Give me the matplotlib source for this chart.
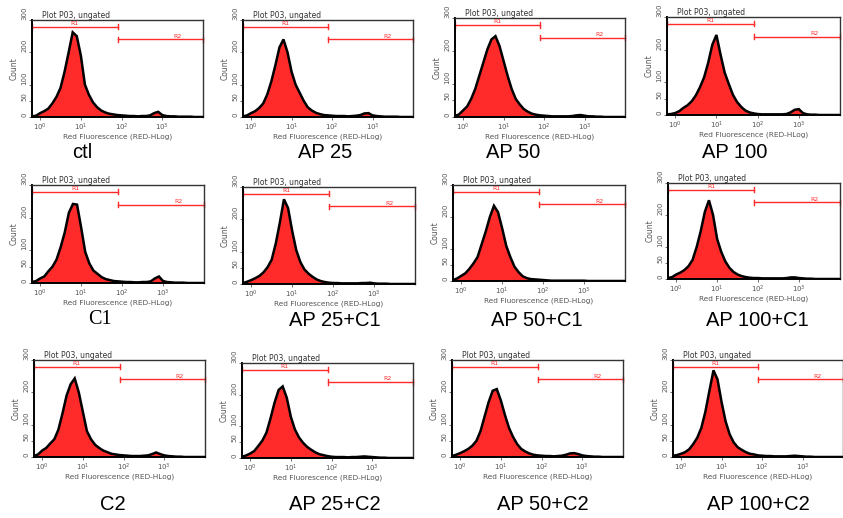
import numpy as np
import matplotlib
matplotlib.use("Agg")
import matplotlib.pyplot as plt
from matplotlib.ticker import FixedLocator, NullLocator

# log10 channel positions of the histogram bins
log_bins = np.round(np.arange(-0.2, 4.01, 0.1), 1)

# counts per bin, one list per sample
ctl = [2, 4, 12, 18, 26, 42, 62, 90, 140, 200, 262, 250, 190, 100, 68, 45, 30, 20, 14, 10, 8, 6,
       5, 4, 3, 3, 2, 3, 3, 5, 12, 16, 6, 3, 2, 2, 1, 1, 1, 1, 0, 0, 0]
ap25 = [2, 5, 12, 18, 28, 42, 70, 110, 160, 215, 240, 200, 140, 100, 75, 50, 30, 20, 13, 9, 6, 5,
        4, 3, 3, 3, 2, 3, 4, 6, 11, 12, 5, 3, 2, 1, 1, 1, 1, 0, 0, 0, 0]
ap50 = [3, 8, 20, 32, 55, 85, 125, 165, 205, 235, 245, 215, 170, 125, 85, 55, 38, 24, 16, 10, 7, 5,
        4, 3, 2, 2, 2, 2, 2, 3, 5, 6, 4, 2, 2, 1, 1, 0, 0, 0, 0, 0, 0]
ap100 = [2, 3, 6, 12, 22, 30, 42, 60, 85, 115, 160, 215, 245, 185, 130, 95, 62, 40, 25, 14, 8, 5,
         3, 2, 2, 2, 2, 2, 2, 3, 8, 16, 18, 6, 2, 1, 1, 0, 0, 0, 0, 0, 0]
c1 = [3, 6, 14, 20, 36, 50, 72, 110, 155, 215, 242, 240, 170, 95, 60, 38, 28, 18, 12, 9, 6, 5,
      4, 3, 3, 2, 2, 3, 3, 5, 14, 20, 6, 3, 2, 1, 1, 1, 0, 0, 0, 0, 0]
ap25_c1 = [3, 7, 12, 18, 25, 36, 52, 75, 125, 190, 262, 235, 165, 105, 68, 45, 32, 22, 14, 9, 6, 4,
           3, 3, 2, 2, 2, 2, 2, 3, 3, 4, 2, 1, 1, 1, 0, 0, 0, 0, 0, 0, 0]
ap50_c1 = [3, 8, 16, 24, 38, 55, 75, 115, 155, 200, 235, 215, 165, 110, 75, 45, 28, 15, 9, 6, 5, 4,
           3, 2, 1, 1, 1, 1, 1, 1, 1, 1, 1, 0, 0, 0, 0, 0, 0, 0, 0, 0, 0]
ap100_c1 = [3, 6, 14, 20, 28, 40, 60, 100, 150, 210, 246, 200, 125, 85, 55, 35, 22, 14, 9, 6, 4, 3,
            3, 2, 2, 2, 2, 2, 2, 3, 5, 5, 3, 2, 1, 1, 0, 0, 0, 0, 0, 0, 0]
c2 = [3, 8, 20, 28, 42, 55, 85, 135, 190, 225, 243, 200, 140, 80, 55, 38, 28, 20, 15, 10, 8, 6,
      5, 4, 3, 3, 3, 4, 5, 9, 14, 9, 5, 3, 2, 1, 1, 0, 0, 0, 0, 0, 0]
ap25_c2 = [4, 8, 14, 22, 38, 55, 80, 125, 175, 215, 226, 190, 130, 90, 65, 48, 35, 26, 18, 12, 9, 6,
           4, 3, 3, 3, 2, 3, 3, 4, 5, 4, 3, 2, 1, 1, 0, 0, 0, 0, 0, 0, 0]
ap50_c2 = [3, 7, 12, 18, 25, 35, 50, 80, 125, 170, 205, 210, 175, 130, 90, 62, 40, 25, 17, 11, 7, 5,
           4, 3, 3, 2, 3, 4, 7, 11, 12, 9, 5, 3, 2, 1, 1, 0, 0, 0, 0, 0, 0]
ap100_c2 = [4, 6, 10, 15, 24, 40, 60, 90, 140, 205, 268, 240, 170, 110, 70, 45, 30, 22, 15, 10, 8, 5,
            4, 3, 3, 2, 2, 2, 2, 3, 4, 3, 2, 1, 1, 0, 0, 0, 0, 0, 0, 0, 0]

samples = [ctl, ap25, ap50, ap100, c1, ap25_c1, ap50_c1, ap100_c1, c2, ap25_c2, ap50_c2, ap100_c2]
names = ["ctl", "AP 25", "AP 50", "AP 100",
         "C1", "AP 25+C1", "AP 50+C1", "AP 100+C1",
         "C2", "AP 25+C2", "AP 50+C2", "AP 100+C2"]

# gates (x range in log10) and the count level the marker is drawn at
r1_gate = [-0.2, 1.9]
r2_gate = [1.9, 4.0]
r1_level = 279
r2_level = 240

W, H = 843, 518
# axes boxes in pixels: left, top, right, bottom
boxes = [
    (32, 20, 203, 117), (243, 20, 413, 117), (455, 18, 625, 117), (667, 17, 840, 115),
    (32, 185, 204, 283), (243, 187, 415, 284), (453, 185, 625, 281), (668, 183, 840, 279),
    (34, 360, 205, 457), (242, 363, 413, 458), (452, 360, 623, 457), (673, 360, 843, 457),
]
# label centres in pixels
label_pos = [
    (82, 153), (325, 153), (513, 153), (735, 153),
    (100, 320), (335, 320), (537, 320), (757, 320),
    (113, 505), (335, 505), (543, 505), (758, 505),
]

fig = plt.figure(figsize=(W / 100, H / 100), dpi=100)
red = "#ff2b2b"
grey = "#555555"

for counts, name, box, lp in zip(samples, names, boxes, label_pos):
    l, t, r, b = box
    ax = fig.add_axes([l / W, 1 - b / H, (r - l) / W, (b - t) / H])
    x = 10 ** log_bins
    ax.fill_between(x, counts, color=red, lw=0)
    ax.plot(x, counts, color="black", lw=1.8, solid_joinstyle="miter")
    ax.set_xscale("log")
    ax.set_xlim(10 ** -0.2, 10 ** 4)
    ax.set_ylim(0, 300)

    # gate markers
    for gate, lev, tag, tx in [(r1_gate, r1_level, "R1", 0.5), (r2_gate, r2_level, "R2", 0.7)]:
        g0, g1 = 10 ** gate[0], 10 ** gate[1]
        ax.plot([g0, g1], [lev, lev], color=red, lw=1, clip_on=False)
        ax.plot([g0, g0], [lev - 8, lev + 8], color=red, lw=1, clip_on=False)
        ax.plot([g1, g1], [lev - 8, lev + 8], color=red, lw=1, clip_on=False)
        xm = 10 ** (gate[0] + tx * (gate[1] - gate[0]))
        ax.text(xm, lev + 2, tag, color=red, fontsize=4.5, ha="center", va="bottom")

    ax.xaxis.set_major_locator(FixedLocator([1, 10, 100, 1000]))
    ax.xaxis.set_minor_locator(NullLocator())
    ax.set_xticklabels(["10$^0$", "10$^1$", "10$^2$", "10$^3$"])
    ax.set_yticks([0, 50, 100, 200, 300])
    ax.tick_params(axis="both", labelsize=5, length=2, width=0.6, pad=1.2, colors=grey)
    for lab in ax.get_yticklabels():
        lab.set_rotation(90)
        lab.set_va("bottom")
    ax.set_xlabel("Red Fluorescence (RED-HLog)", fontsize=5.3, color=grey, labelpad=0.5)
    ax.set_ylabel("Count", fontsize=5.5, color=grey, labelpad=2)
    ax.set_title("Plot P03, ungated", fontsize=5.5, color="#333333", loc="left", pad=1, x=0.06)
    for side in ["left", "bottom"]:
        ax.spines[side].set_linewidth(1.4)
    for side in ["top", "right"]:
        ax.spines[side].set_linewidth(1.0)
        ax.spines[side].set_color("#333333")

    fam = "Liberation Serif" if name == "C1" else "Liberation Sans"
    fig.text(lp[0] / W, 1 - lp[1] / H, name, fontsize=14.5, family=fam, ha="center", va="center")

fig.savefig("out.png", dpi=100)
